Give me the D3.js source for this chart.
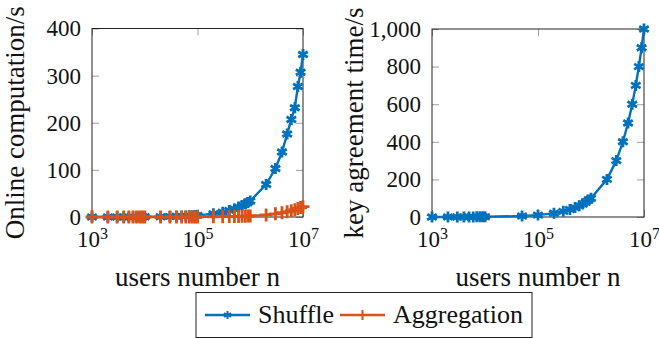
<!DOCTYPE html>
<html>
<head>
<meta charset="utf-8">
<script src="https://cdn.jsdelivr.net/npm/d3@7/dist/d3.min.js"></script>
<style>
  body { margin: 0; background: #fff; }
  svg { display: block; }
</style>
</head>
<body>
<svg width="659" height="339"></svg>
<script>
// users number n, one list per decade block
const usersLeft = [1e3, 2e3, 3e3, 4e3, 5e3, 6e3, 7e3, 8e3, 9e3, 1e4,
	2e4, 3e4, 4e4, 5e4, 6e4, 7e4, 8e4, 9e4, 1e5,
	2e5, 3e5, 4e5, 5e5, 6e5, 7e5, 8e5, 9e5, 1e6,
	2e6, 3e6, 4e6, 5e6, 6e6, 7e6, 8e6, 9e6, 1e7]
const shuffleOnline = [0.04, 0.07, 0.1, 0.14, 0.17, 0.2, 0.24, 0.27, 0.31, 0.35,
	0.7, 1.0, 1.4, 1.7, 2.1, 2.4, 2.8, 3.1, 3.5,
	7, 10, 14, 17, 21, 24, 28, 31, 34,
	69, 103, 138, 176, 207, 232, 277, 307, 345]
const aggregationOnline = [0, 0, 0, 0, 0.01, 0.01, 0.02, 0.02, 0.02, 0.02,
	0.04, 0.07, 0.09, 0.11, 0.13, 0.15, 0.18, 0.2, 0.22,
	0.45, 0.7, 0.9, 1.1, 1.3, 1.5, 1.8, 2.0, 2.2,
	4.5, 6.7, 9, 11, 13, 15.5, 18, 20, 22]

const usersRight = [1e3, 2e3, 3e3, 4e3, 5e3, 6e3, 7e3, 8e3, 9e3, 1e4,
	5e4, 1e5,
	2e5, 3e5, 4e5, 5e5, 6e5, 7e5, 8e5, 9e5, 1e6,
	2e6, 3e6, 4e6, 5e6, 6e6, 7e6, 8e6, 9e6, 1e7]
const keyAgreement = [0.1, 0.2, 0.3, 0.4, 0.5, 0.6, 0.7, 0.8, 0.9, 1.0,
	5, 10,
	20, 30, 40, 50, 60, 70, 80, 90, 100,
	200, 300, 400, 500, 600, 700, 800, 900, 1000]

const xTicks = [1e3, 1e5, 1e7]
const leftYTicks = [0, 100, 200, 300, 400]
const rightYTicks = [0, 200, 400, 600, 800, 1000]

const blue = '#0072BD'
const orange = '#D95319'
const serif = 'Liberation Serif'

const svg = d3.select('svg')

// star marker (three crossing strokes) and plus marker
const starPath = (r) => {
	let p = ''
	for (let a = 90; a < 270; a += 60) {
		const rad = a * Math.PI / 180
		const dx = r * Math.cos(rad), dy = r * Math.sin(rad)
		p += `M${dx},${dy}L${-dx},${-dy}`
	}
	return p
}
const plusPath = (r) => `M${-r},0L${r},0M0,${-r}L0,${r}`

const drawPanel = (opts) => {
	const { left, right, top, bottom, yMax, yTicks, series, yLabel, labelX } = opts
	const x = d3.scaleLog().domain([1e3, 1e7]).range([left, right])
	const y = d3.scaleLinear().domain([0, yMax]).range([bottom, top])
	const g = svg.append('g')

	// inward ticks on all four sides
	const tick = 7
	const ax = g.append('g').attr('transform', `translate(0,${bottom})`)
		.call(d3.axisBottom(x).tickValues(xTicks).tickSize(-tick).tickPadding(14).tickFormat(d => ''))
	g.append('g').attr('transform', `translate(0,${top})`)
		.call(d3.axisTop(x).tickValues(xTicks).tickSize(-tick).tickFormat(''))
	g.append('g').attr('transform', `translate(${left},0)`)
		.call(d3.axisLeft(y).tickValues(yTicks).tickSize(-tick).tickPadding(11).tickFormat(d3.format(',')))
	g.append('g').attr('transform', `translate(${right},0)`)
		.call(d3.axisRight(y).tickValues(yTicks).tickSize(-tick).tickFormat(''))
	g.selectAll('.domain').remove()
	g.selectAll('g').attr('font-family', serif).attr('font-size', null)
	g.selectAll('.tick line').attr('stroke', '#888').attr('stroke-width', 0.8)
	g.selectAll('.tick text').attr('font-family', serif).attr('font-size', 23).attr('fill', '#111')

	// 10^k labels
	ax.selectAll('.tick text').each(function (d) {
		const t = d3.select(this)
		t.append('tspan').text('10')
		t.append('tspan').attr('font-size', 16).attr('dy', '-0.55em').text(Math.round(Math.log10(d)))
	})

	g.append('rect')
		.attr('x', left).attr('y', top)
		.attr('width', right - left).attr('height', bottom - top)
		.attr('fill', 'none').attr('stroke', '#222').attr('stroke-width', 1)

	const line = d3.line().x(d => x(d[0])).y(d => y(d[1]))
	series.forEach(s => {
		const pts = s.xs.map((v, i) => [v, s.ys[i]])
		g.append('path').datum(pts)
			.attr('d', line)
			.attr('fill', 'none').attr('stroke', s.color).attr('stroke-width', 2.4)
			.attr('stroke-linejoin', 'round')
		g.append('g').selectAll('path').data(pts).enter().append('path')
			.attr('transform', d => `translate(${x(d[0])},${y(d[1])})`)
			.attr('d', s.marker)
			.attr('stroke', s.color).attr('stroke-width', 2.8).attr('fill', 'none')
	})

	g.append('text')
		.attr('x', (left + right) / 2).attr('y', 285.5)
		.attr('text-anchor', 'middle').attr('font-family', serif).attr('font-size', 27).attr('fill', '#111')
		.text('users number n')
	g.append('text')
		.attr('transform', `translate(${labelX},${(top + bottom) / 2}) rotate(-90)`)
		.attr('text-anchor', 'middle').attr('font-family', serif).attr('font-size', 27).attr('fill', '#111')
		.text(yLabel)
}

drawPanel({
	left: 92, right: 303, top: 28.5, bottom: 217, yMax: 400, yTicks: leftYTicks,
	yLabel: 'Online computation/s', labelX: 23.5,
	series: [
		{ xs: usersLeft, ys: shuffleOnline, color: blue, marker: starPath(5.5) },
		{ xs: usersLeft, ys: aggregationOnline, color: orange, marker: plusPath(6.5) }
	]
})

drawPanel({
	left: 432, right: 644, top: 29, bottom: 217, yMax: 1000, yTicks: rightYTicks,
	yLabel: 'key agreement time/s', labelX: 363,
	series: [
		{ xs: usersRight, ys: keyAgreement, color: blue, marker: starPath(5.5) }
	]
})

// Legend
const legend = svg.append('g')
legend.append('rect')
	.attr('x', 196).attr('y', 292.5).attr('width', 336).attr('height', 45)
	.attr('fill', '#fff').attr('stroke', '#222').attr('stroke-width', 1)
const entries = [
	{ name: 'Shuffle', color: blue, marker: starPath(4), x0: 205 },
	{ name: 'Aggregation', color: orange, marker: plusPath(5), x0: 340 }
]
entries.forEach(e => {
	legend.append('line')
		.attr('x1', e.x0).attr('x2', e.x0 + 45).attr('y1', 315).attr('y2', 315)
		.attr('stroke', e.color).attr('stroke-width', 2.4)
	legend.append('path')
		.attr('transform', `translate(${e.x0 + 22.5},315)`)
		.attr('d', e.marker).attr('stroke', e.color).attr('stroke-width', 2).attr('fill', 'none')
	legend.append('text')
		.attr('x', e.x0 + 53).attr('y', 322.5)
		.attr('font-family', serif).attr('font-size', 26).attr('fill', '#111')
		.text(e.name)
})
</script>
</body>
</html>
